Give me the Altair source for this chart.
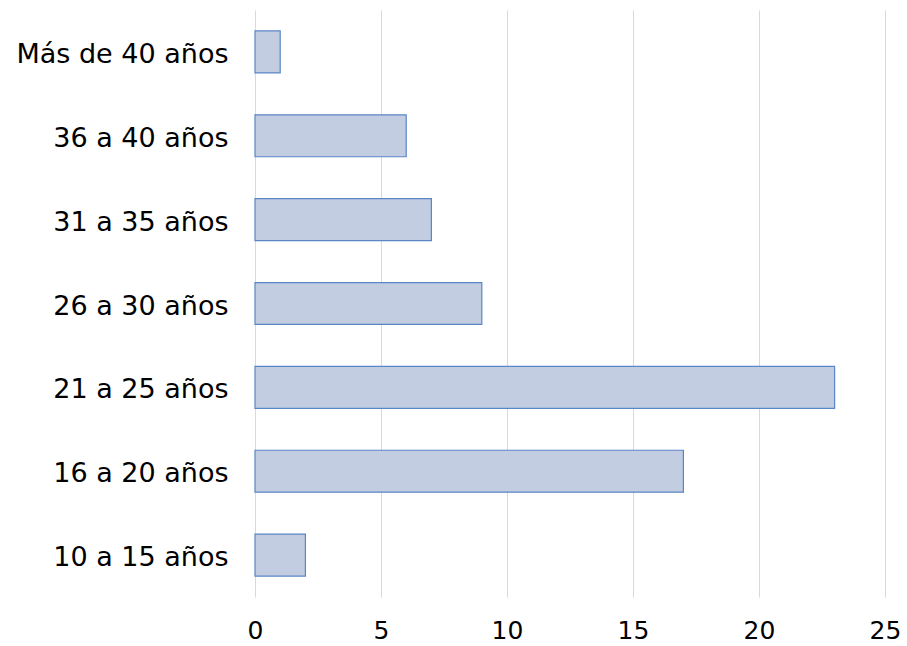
import altair as alt
import pandas as pd

# Age groups (top to bottom) and the count in each
grupos = ["Más de 40 años", "36 a 40 años", "31 a 35 años", "26 a 30 años",
          "21 a 25 años", "16 a 20 años", "10 a 15 años"]
valores = [1, 6, 7, 9, 23, 17, 2]
ticks_x = [0, 5, 10, 15, 20, 25]

df = pd.DataFrame({"grupo": grupos, "valor": valores})

FONT = "DejaVu Sans"

chart = (
    alt.Chart(df)
    .mark_bar(color="#C3CDE2", stroke="#5A86C6", strokeWidth=1.2)
    .encode(
        x=alt.X(
            "valor:Q",
            scale=alt.Scale(domain=[0, 25], nice=False),
            axis=alt.Axis(
                values=ticks_x, title=None, grid=True, gridColor="#D9D9D9",
                domain=False, ticks=False, labelFontSize=25, labelFont=FONT,
                labelColor="#000000", labelPadding=21, labelFlush=False,
            ),
        ),
        y=alt.Y(
            "grupo:N",
            sort=grupos,
            scale=alt.Scale(paddingInner=0.5, paddingOuter=0.25),
            axis=alt.Axis(
                title=None, domain=False, ticks=False, grid=False,
                labelFontSize=27, labelFont=FONT, labelColor="#000000",
                labelPadding=27, labelLimit=300, labelOffset=3,
            ),
        ),
    )
    .properties(
        width=630,
        height=587,
        background="white",
        autosize=alt.AutoSizeParams(type="none"),
        padding={"left": 255, "top": 10, "right": 22, "bottom": 49},
    )
    .configure_view(strokeWidth=0)
)

chart.save("out.html", embed_options={"renderer": "svg", "actions": False})
